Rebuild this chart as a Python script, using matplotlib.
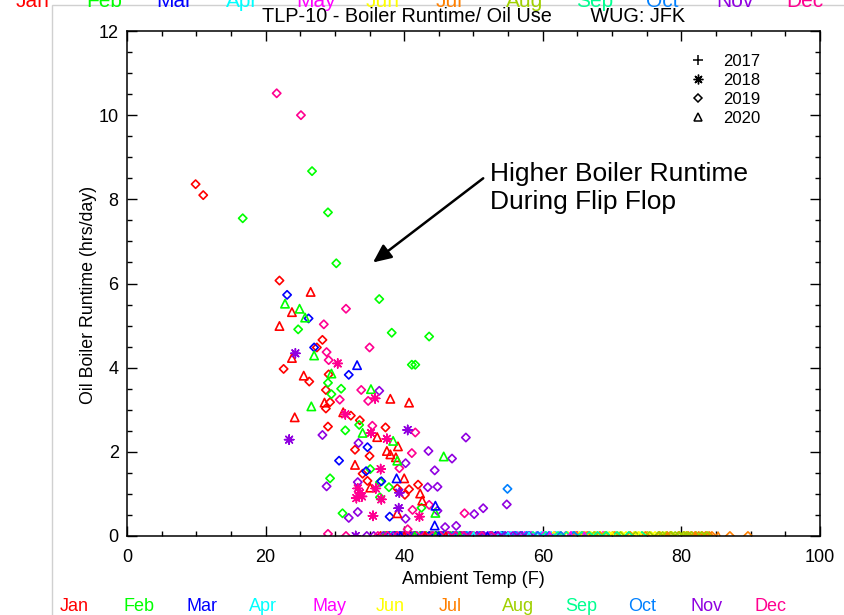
import matplotlib
matplotlib.use("Agg")
import matplotlib.pyplot as plt
from matplotlib.lines import Line2D
from matplotlib.patches import Rectangle
from matplotlib.ticker import MultipleLocator

plt.rcParams['font.family'] = ['Liberation Sans', 'DejaVu Sans']

# month names / colours (colour = month, marker = year)
months = ['Jan', 'Feb', 'Mar', 'Apr', 'May', 'Jun', 'Jul', 'Aug', 'Sep', 'Oct', 'Nov', 'Dec']
month_colors = ['#FF0000', '#00FF00', '#0000FF', '#00FFFF', '#FF00FF', '#FFFF00',
                '#FF8000', '#A0D000', '#00FF90', '#0080FF', '#9000E0', '#FF0090']
years = ['2017', '2018', '2019', '2020']

# 2018 (asterisks)
temp_2018 = [24.3, 23.4, 30.4, 35.8, 31.5, 35.2, 37.5, 40.5, 36.6, 33.3, 33.6, 33.1,
             33.9, 35.9, 36.7, 35.5, 39.3, 39.2, 42.2, 33.0]
run_2018 = [4.34, 2.29, 4.10, 3.27, 2.89, 2.45, 2.31, 2.52, 1.59, 1.13, 1.02, 0.90,
            0.94, 1.13, 0.87, 0.48, 1.03, 0.66, 0.46, 0.0]
month_2018 = [11, 11, 12, 12, 12, 12, 12, 11, 12, 12, 12, 12,
              12, 12, 12, 12, 11, 11, 12, 11]

# 2019 (diamonds)
temp_2019 = [9.9, 11.0, 22.0, 28.2, 27.4, 22.6, 29.1, 26.3, 28.7, 29.3, 28.7, 32.3,
             33.6, 37.3, 29.0, 32.9, 35.0, 34.0, 34.7, 42.0, 39.0, 40.7, 40.1,
             16.7, 26.7, 29.0, 30.2, 36.4, 24.7, 38.2, 43.6, 41.1, 41.6, 29.0, 30.9,
             29.5, 33.5, 31.5, 35.1, 29.3, 36.5, 37.8, 36.5, 42.5, 31.1,
             23.1, 26.2, 27.0, 32.0, 34.7, 30.6, 34.5, 36.7, 37.9,
             54.9,
             36.4, 48.9, 28.2, 33.4, 43.5, 46.9, 40.2, 44.4, 33.3, 28.8, 43.4, 44.8,
             44.8, 33.3, 32.0, 40.2, 50.1, 51.4, 54.8, 45.9, 47.5, 34.6,
             21.6, 25.1, 31.6, 28.4, 35.0, 28.8, 29.1, 33.8, 30.7, 34.8, 35.4, 41.6,
             41.1, 39.3, 43.6, 41.2, 48.7, 40.5, 29.0, 31.6]
run_2019 = [8.36, 8.10, 6.07, 4.66, 4.48, 3.97, 3.84, 3.67, 3.47, 3.18, 3.03, 2.86,
            2.75, 2.58, 2.60, 2.05, 1.90, 1.48, 1.31, 1.22, 1.13, 1.11, 0.98,
            7.55, 8.67, 7.69, 6.48, 5.63, 4.91, 4.83, 4.74, 4.07, 4.07, 3.64, 3.50,
            3.37, 2.64, 2.51, 1.59, 1.37, 1.28, 1.16, 0.92, 0.67, 0.54,
            5.73, 5.17, 4.48, 3.83, 2.11, 1.79, 1.54, 1.30, 0.46,
            1.12,
            3.45, 2.34, 2.40, 2.21, 2.02, 1.84, 1.73, 1.56, 1.28, 1.18, 1.16, 1.17,
            0.60, 0.57, 0.43, 0.41, 0.52, 0.66, 0.75, 0.21, 0.24, 0.0,
            10.52, 10.0, 5.40, 5.03, 4.48, 4.37, 4.18, 3.47, 3.24, 3.21, 2.62, 2.46,
            1.97, 1.61, 0.74, 0.62, 0.54, 0.16, 0.05, 0.0]
month_2019 = [1] * 23 + [2] * 22 + [3] * 9 + [10] + [11] * 22 + [12] * 20

# 2020 (triangles)
temp_2020 = [26.5, 23.8, 22.0, 23.8, 25.5, 38.0, 40.7, 28.5, 31.2, 24.2, 36.1, 39.1,
             37.5, 38.0, 38.8, 32.9, 40.0, 35.1, 42.3, 42.6, 39.0,
             22.8, 24.9, 25.7, 27.0, 29.5, 35.2, 26.6, 34.0, 38.4, 45.7, 39.0, 44.5,
             33.2, 38.9, 44.5, 44.4]
run_2020 = [5.80, 5.32, 4.99, 4.23, 3.81, 3.26, 3.17, 3.17, 2.94, 2.82, 2.35, 2.13,
            2.02, 1.94, 1.87, 1.69, 1.37, 1.15, 1.01, 0.84, 0.54,
            5.52, 5.40, 5.19, 4.29, 3.86, 3.49, 3.08, 2.45, 2.26, 1.89, 1.79, 0.55,
            4.06, 1.37, 0.72, 0.25]
month_2020 = [1] * 21 + [2] * 12 + [3] * 4

# days with no boiler runtime (runtime = 0), temperatures by month
zero_temp = {
    1: [36.6, 37.4, 38.1, 38.9, 39.6, 40.3, 41.0, 41.6, 42.3, 43.0, 43.7, 44.5, 45.3,
        46.1, 47.0, 48.2, 49.5, 51.0],
    2: [37.2, 38.0, 38.7, 39.5, 40.2, 40.9, 41.7, 42.4, 43.2, 44.0, 44.9, 45.8, 46.7,
        47.7, 48.8, 50.0, 51.3, 52.7, 54.2],
    3: [37.8, 38.6, 39.3, 40.1, 40.8, 41.5, 42.6, 43.6, 44.6, 45.6, 46.4, 47.2, 48.0,
        48.8, 49.6, 50.5, 51.4, 52.3, 53.2, 54.1, 55.0, 56.0, 57.0, 58.0],
    4: [37.0, 38.2, 39.8, 41.9, 44.1, 46.0, 47.6, 49.2, 50.8, 52.4, 53.9, 55.4, 56.6,
        57.6, 58.4, 59.1, 59.8, 60.5, 61.2, 61.9, 62.6, 63.4, 64.3],
    5: [47.3, 48.9, 50.6, 52.1, 53.6, 55.1, 56.3, 57.4, 58.3, 59.2, 60.1, 60.9, 61.7,
        62.5, 63.3, 64.1, 64.9, 65.7, 66.6, 67.6, 68.7],
    6: [61.6, 62.6, 63.6, 64.5, 65.3, 66.1, 66.9, 67.6, 68.3, 69.0, 69.6, 70.2, 70.8,
        71.4, 72.0, 72.6, 73.2, 73.8, 74.4, 75.0, 75.6, 76.2, 76.9, 77.7, 78.6, 79.6, 80.7],
    7: [64.8, 66.4, 68.2, 70.4, 72.6, 74.8, 76.8, 78.4, 79.6, 80.4, 81.0, 81.5, 82.0,
        82.5, 83.0, 83.5, 84.0, 84.4, 87.0, 89.6],
    8: [65.8, 67.4, 69.0, 71.2, 73.4, 75.4, 76.7, 77.3, 77.9, 78.5, 79.1, 79.7, 80.3,
        80.8, 81.4, 82.1, 82.9, 83.7],
    9: [56.8, 58.6, 60.4, 62.2, 63.4, 64.5, 65.6, 66.7, 67.9, 69.2, 70.7, 72.4, 74.3],
    10: [45.2, 47.1, 49.0, 50.9, 52.7, 54.4, 56.1, 57.7, 59.3, 60.9, 62.6, 64.5],
    11: [35.6, 37.0, 38.4, 39.8, 41.3, 42.7, 44.1, 45.3, 46.4, 47.5, 48.5, 49.5, 50.5,
         51.5, 52.5, 53.5, 54.6, 55.7, 56.8, 58.0],
    12: [36.2, 37.6, 39.0, 40.4, 41.8, 43.0, 44.1, 45.2, 46.3, 47.4, 48.6, 49.9, 51.2, 52.6],
}
zero_temp_2020 = [40.0, 43.0, 46.0, 41.5, 44.5, 48.0, 39.5, 45.0, 52.0, 55.0, 50.0, 58.0,
                  61.0, 64.0, 66.0, 70.0, 74.0, 78.0, 82.0, 85.3]
zero_month_2020 = [1, 1, 1, 2, 2, 2, 3, 3, 3, 4, 4, 4, 5, 5, 5, 6, 6, 7, 7, 7]

fig = plt.figure(figsize=(8.45, 6.15), dpi=100)
ax = fig.add_axes([127 / 845, 1 - 536 / 615, 693 / 845, 505 / 615])

asterisk = (8, 2, 0)


def cols(mlist):
    return [month_colors[m - 1] for m in mlist]


# zero-runtime band first (half hidden below the axis, as in the original)
for m in range(1, 13):
    t = zero_temp[m]
    ax.scatter(t, [0] * len(t), marker='D', s=18, facecolors='none',
               edgecolors=month_colors[m - 1], linewidths=1.2, zorder=2)
ax.scatter(zero_temp_2020, [0] * len(zero_temp_2020), marker='^', s=32, facecolors='none',
           edgecolors=cols(zero_month_2020), linewidths=1.1, zorder=2)

ax.scatter(temp_2019, run_2019, marker='D', s=18, facecolors='none',
           edgecolors=cols(month_2019), linewidths=1.2, zorder=3)
ax.scatter(temp_2020, run_2020, marker='^', s=36, facecolors='none',
           edgecolors=cols(month_2020), linewidths=1.2, zorder=3)
ax.scatter(temp_2018, run_2018, marker=asterisk, s=45, c=cols(month_2018),
           linewidths=1.1, zorder=4)

ax.set_xlim(0, 100)
ax.set_ylim(0, 12)
ax.xaxis.set_major_locator(MultipleLocator(20))
ax.xaxis.set_minor_locator(MultipleLocator(5))
ax.yaxis.set_major_locator(MultipleLocator(2))
ax.yaxis.set_minor_locator(MultipleLocator(0.5))
ax.tick_params(which='both', direction='in', top=True, right=True, width=1, color='black')
ax.tick_params(which='major', length=7.5, labelsize=13)
ax.tick_params(which='minor', length=3.8)
ax.tick_params(axis='x', pad=9)
ax.tick_params(axis='y', pad=6)
for sp in ax.spines.values():
    sp.set_linewidth(1.1)
    sp.set_zorder(5)
fig.canvas.draw()
ylabs = ax.get_yticklabels()
ylabs[0].set_verticalalignment('bottom')
ylabs[-1].set_verticalalignment('top')

ax.set_xlabel('Ambient Temp (F)', fontsize=13, va='center')
ax.xaxis.set_label_coords(0.5, -0.087)
ax.set_ylabel('Oil Boiler Runtime (hrs/day)', fontsize=12.8, va='center')
ax.yaxis.set_label_coords(-0.056, 0.477)
fig.text(473.5 / 845, 1 - 17 / 615, 'TLP-10 - Boiler Runtime/ Oil Use       WUG: JFK',
         fontsize=14.3, ha='center', va='center')

# legend for years
handles = [
    Line2D([], [], marker='+', ms=7, mew=1.1, ls='none', color='black'),
    Line2D([], [], marker=asterisk, ms=7, mew=1.0, ls='none', color='black'),
    Line2D([], [], marker='D', ms=4, mew=1.1, mfc='none', ls='none', color='black'),
    Line2D([], [], marker='^', ms=5.5, mew=1.1, mfc='none', ls='none', color='black'),
]
ax.legend(handles, years, loc='upper left', bbox_to_anchor=(0.812, 0.955), frameon=False,
          fontsize=12, handlelength=1.0, handletextpad=1.0, labelspacing=0.25,
          borderpad=0, borderaxespad=0)

# annotation
ax.annotate('', xy=(35.5, 6.5), xytext=(51.4, 8.5),
            arrowprops=dict(arrowstyle='-|>,head_length=1.1,head_width=0.5', lw=1.8,
                            color='black', shrinkA=0, shrinkB=0))
ax.text(52.4, 8.27, 'Higher Boiler Runtime\nDuring Flip Flop', fontsize=19,
        ha='left', va='center', linespacing=1.25)

# month colour key, bottom and (cut-off) top
for i, name in enumerate(months):
    fig.text((60 + i * 63.1) / 845, 1 - 611 / 615, name, color=month_colors[i],
             fontsize=13, ha='left', va='baseline')
    fig.text((16 + i * 70.0) / 845, 1 - 7 / 615, name, color=month_colors[i],
             fontsize=15, ha='left', va='baseline')

fig.add_artist(Rectangle((52 / 845, -0.1), 1.0, 1 - 5 / 615 + 0.1, transform=fig.transFigure,
                         fill=False, edgecolor='#D0D0D0', lw=1.0))

fig.savefig('out.png', dpi=100)
